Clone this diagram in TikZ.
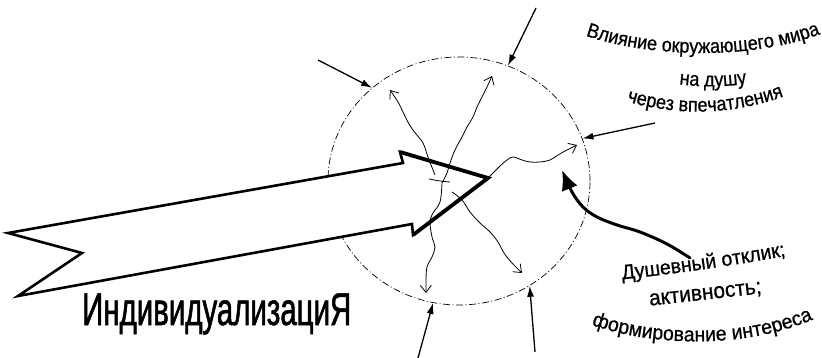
\documentclass[tikz,border=0pt]{standalone}
\usepackage{fontspec}
\setmainfont{Liberation Sans}
\newfontfamily\labelsans[FakeStretch=0.9, FakeBold=0.8]{Liberation Sans}
\newfontfamily\lowsans[FakeStretch=0.95, FakeBold=0.8]{Liberation Sans}
\newfontfamily\bigsans[FakeStretch=0.64, FakeBold=1.2]{Liberation Sans}
\usetikzlibrary{arrows.meta,decorations.text,shapes.geometric}

\newcommand{\toptext}{\labelsans\fontsize{20}{22}\selectfont}
\newcommand{\bottext}{\lowsans\fontsize{20.5}{22}\selectfont}
\newcommand{\midtext}{\lowsans\fontsize{22}{24}\selectfont}

\begin{document}
\begin{tikzpicture}[x=1pt, y=-1pt,
    wiggle/.style={line width=0.8pt, -{Straight Barb[length=7pt,width=11pt]}},
    inflow/.style={line width=1.3pt, -{Latex[length=11pt,width=7pt]}},
    response/.style={line width=3pt, line cap=round, -{Latex[length=20pt,width=17pt]}},
    curvetext/.style={decorate, decoration={text along path, text align=center, text={#1}}}]
  \useasboundingbox (0,0) rectangle (822,358);

  % Душа
  \node[draw, ellipse, inner sep=0pt, minimum width=262pt, minimum height=248pt,
        line width=0.7pt, dash pattern=on 7pt off 2.5pt on 1pt off 2.5pt] (soul) at (459,181) {};

  % Стрелка индивидуализации
  \filldraw[fill=white, line width=2.6pt, line join=miter]
      (8,233) -- (82,253) -- (18,296) -- (412,224) -- (413,235)
      -- (488,178) -- (400,152) -- (403,163) -- cycle;
  \draw[line width=3.8pt, line join=miter] (413,235) -- (488,178) -- (400,152);
  \node[font=\bigsans\fontsize{46}{48}\selectfont, anchor=base west, inner sep=0pt]
      (individ) at (82,325) {ИндивидуализациЯ};

  % Изнутри наружу
  \draw[wiggle] plot[smooth, tension=0.6] coordinates {(435,175) (428,157) (423,143) (416,134)
      (409,124) (403,112) (398,102) (390,90)};
  \draw[wiggle] plot[smooth, tension=0.6] coordinates {(442,183) (447,173) (450,163) (455,150)
      (462,137) (467,127) (473,117) (477,107) (482,97) (487,87) (492,76)};
  \draw[wiggle] plot[smooth, tension=0.6] coordinates {(488,178) (493,173) (500,166) (507,160)
      (513,157) (522,160) (530,162) (540,162) (550,160) (558,155) (567,150) (577,145)};
  \draw[wiggle] plot[smooth, tension=0.6] coordinates {(452,192) (462,200) (470,212) (480,223)
      (490,232) (498,242) (504,253) (512,263) (522,273)};
  \draw[wiggle] plot[smooth, tension=0.6] coordinates {(442,183) (440,202) (433,213) (430,222)
      (432,237) (435,247) (432,257) (427,267) (426,280) (426,293)};
  \draw[line width=0.8pt] plot[smooth, tension=0.6] coordinates {(429,179) (440,181) (450,182)};

  % Снаружи внутрь
  \coordinate (w1) at (318,60);
  \coordinate (w2) at (536,8);
  \coordinate (w3) at (655,123);
  \coordinate (w4) at (418,358);
  \coordinate (w5) at (535,352);
  \draw[inflow] (w1) -- (soul.133);
  \draw[inflow] (w2) -- (soul.67);
  \draw[inflow] (w3) -- (soul.19);
  \draw[inflow] (w4) -- (soul.258);
  \draw[inflow] (w5) -- (soul.304);

  % Отклик
  \draw[response] plot[smooth, tension=0.6] coordinates {(690,258) (667,244) (640,232) (617,225)
      (597,217) (583,207) (572,192) (562,170)};

  % Подписи
  \path[curvetext={|\toptext|Влияние окружающего мира}]
      (578,33) .. controls (650,60) and (760,60) .. (828,31);
  \path[curvetext={|\toptext|на душу}]
      (662,82) .. controls (702,88) and (724,88) .. (764,81);
  \path[curvetext={|\toptext|через впечатления}]
      (608,95) .. controls (670,119) and (740,117) .. (802,89);
  \path[curvetext={|\bottext|Душевный отклик;}]
      (596,282) .. controls (670,275) and (740,265) .. (812,251);
  \path[curvetext={|\midtext|активность;}]
      (638,307) -- (774,292);
  \path[curvetext={|\bottext|формирование интереса}]
      (570,316) .. controls (640,350) and (760,352) .. (834,309);

\end{tikzpicture}
\end{document}
